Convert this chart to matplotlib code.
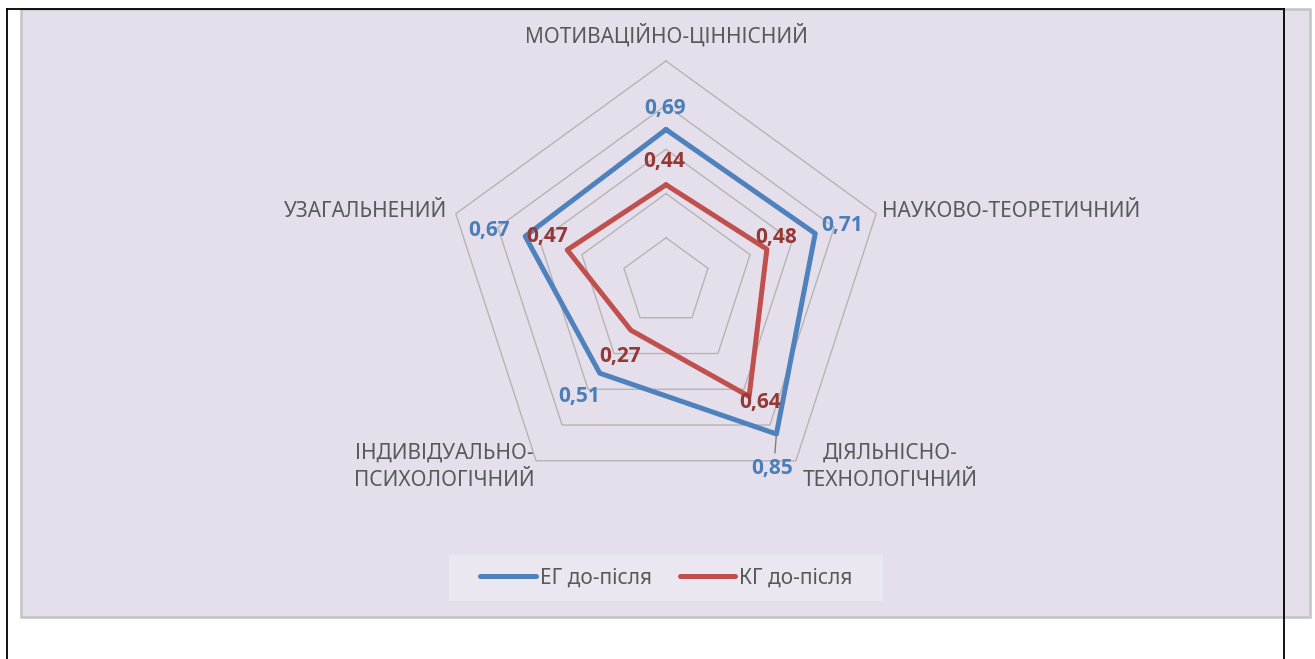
import numpy as np
import matplotlib
matplotlib.use('Agg')
import matplotlib.pyplot as plt
from matplotlib.patches import Rectangle
from matplotlib.lines import Line2D
from matplotlib import font_manager

plt.rcParams['font.family'] = ['Noto Sans', 'DejaVu Sans']

# ---------------- data ----------------
categories = ['МОТИВАЦІЙНО-ЦІННІСНИЙ', 'НАУКОВО-ТЕОРЕТИЧНИЙ',
              'ДІЯЛЬНІСНО-\nТЕХНОЛОГІЧНИЙ', 'ІНДИВІДУАЛЬНО-\nПСИХОЛОГІЧНИЙ',
              'УЗАГАЛЬНЕНИЙ']
eg_values = [0.69, 0.71, 0.85, 0.51, 0.67]
kg_values = [0.44, 0.48, 0.64, 0.27, 0.47]
series_names = ['ЕГ до-після', 'КГ до-після']
grid_levels = [0.2, 0.4, 0.6, 0.8, 1.0]

# ---------------- styling / layout ----------------
W, H, DPI = 1315, 659, 100
CX, CY, RPX = 666, 282, 221          # centre and radius in pixels
blue, red = '#4f81bd', '#c0504d'
blue_lbl, red_lbl = '#4a7ebb', '#953735'
txt_col = '#595959'
grid_col = '#b4b4b4'
bg_col = '#e5dfeb'
leg_col = '#ebe7f0'

# pick a family that really has a bold face for the data labels
bold_family = 'DejaVu Sans'
for fam in ['Open Sans', 'Roboto', 'Lato', 'Liberation Sans']:
    try:
        f = font_manager.findfont(font_manager.FontProperties(family=fam, weight='bold'),
                                  fallback_to_default=False)
        if 'bold' in f.lower() or 'Bold' in f:
            bold_family = fam
            break
    except Exception:
        pass

# label offsets in pixels (dx, dy downward)
eg_offsets = [(-1, -21.5), (27, -8.5), (-4, 35), (-21, 23), (-36, -6)]
kg_offsets = [(-2, -23), (9, -12), (11, 6), (-11, 26), (-20, -13)]
cat_layout = [('center', 0, -25), ('left', 6, -2), ('center', 94, 6),
              ('center', -92, 6), ('right', -9, -2)]

fig = plt.figure(figsize=(W / DPI, H / DPI), dpi=DPI)
fig.patch.set_facecolor('white')

def px(x0, y0, x1, y1):
    return (x0 / W, 1 - y1 / H, (x1 - x0) / W, (y1 - y0) / H)

# chart area background
x, y, w, h = px(21, 9, 1310, 617)
fig.patches.append(Rectangle((x, y), w, h, transform=fig.transFigure,
                             facecolor=bg_col, edgecolor='#c3c3c3',
                             linewidth=1.8, zorder=-5))
# legend background
x, y, w, h = px(449, 555, 883, 601)
fig.patches.append(Rectangle((x, y), w, h, transform=fig.transFigure,
                             facecolor=leg_col, edgecolor='none', zorder=-4))
# black frame
for (xa, ya, xb, yb) in [(7, 9, 7, 659), (7, 9, 1284, 9), (1284, 9, 1284, 659)]:
    fig.lines.append(Line2D([xa / W, xb / W], [1 - ya / H, 1 - yb / H],
                            transform=fig.transFigure, color='black',
                            linewidth=1.3, zorder=10))

ax = fig.add_axes([0, 0, 1, 1])
ax.set_xlim(-CX / RPX, (W - CX) / RPX)
ax.set_ylim((CY - H) / RPX, CY / RPX)
ax.axis('off')
ax.patch.set_alpha(0)

n = len(categories)
theta = np.arange(n) * 2 * np.pi / n   # clockwise from top

def xy(vals):
    v = np.asarray(vals, dtype=float)
    return v * np.sin(theta), v * np.cos(theta)

# grid pentagons
for lev in grid_levels:
    gx, gy = xy([lev] * n)
    ax.plot(np.append(gx, gx[0]), np.append(gy, gy[0]), color=grid_col,
            linewidth=1.0, zorder=1)

# series
for vals, col, name in [(eg_values, blue, series_names[0]),
                        (kg_values, red, series_names[1])]:
    sx, sy = xy(vals)
    ax.plot(np.append(sx, sx[0]), np.append(sy, sy[0]), color=col,
            linewidth=3.6, solid_joinstyle='round', solid_capstyle='round',
            label=name, zorder=3)

# data labels
def fmt(v):
    return f'{v:.2f}'.replace('.', ',')

for vals, offs, col in [(eg_values, eg_offsets, blue_lbl),
                        (kg_values, kg_offsets, red_lbl)]:
    sx, sy = xy(vals)
    for i, v in enumerate(vals):
        dx, dy = offs[i]
        ax.annotate(fmt(v), (sx[i], sy[i]), xytext=(dx, -dy),
                    textcoords='offset pixels', ha='center', va='center',
                    fontsize=15, fontweight='bold', family=[bold_family, 'DejaVu Sans'],
                    color=col, zorder=5)

# leader line for the 0,85 label
sx, sy = xy(eg_values)
ax.annotate('', (sx[2], sy[2]), xytext=(-1.5, -19), textcoords='offset pixels',
            arrowprops=dict(arrowstyle='-', color='#7f7f7f', linewidth=1.0,
                            shrinkA=0, shrinkB=0), zorder=2)

# category labels
ox, oy = xy([1.0] * n)
for i, cat in enumerate(categories):
    ha, dx, dy = cat_layout[i]
    ax.annotate(cat, (ox[i], oy[i]), xytext=(dx, -dy), textcoords='offset pixels',
                ha=ha, va='center', multialignment='center', fontsize=15,
                color=txt_col, linespacing=1.45)

ax.legend(loc='center', bbox_to_anchor=(666.5 / W, 1 - 578 / H),
          bbox_transform=fig.transFigure, ncol=2, frameon=False, fontsize=15,
          handlelength=2.65, handletextpad=0.2, columnspacing=1.35,
          labelcolor=txt_col)

fig.savefig('out.png', dpi=DPI, facecolor='white')
